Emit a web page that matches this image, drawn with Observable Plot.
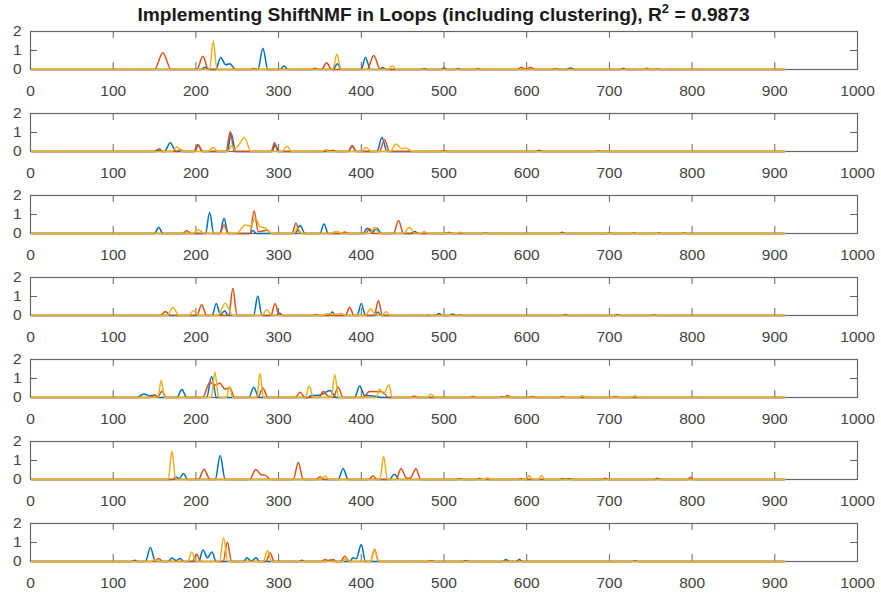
<!DOCTYPE html>
<html>
<head>
<meta charset="utf-8">
<script src="https://cdn.jsdelivr.net/npm/d3@7"></script>
<script src="https://cdn.jsdelivr.net/npm/@observablehq/plot@0.6"></script>
<style>
  html, body { margin: 0; padding: 0; background: #fff; overflow: hidden; }
  #wrap { width: 881px; height: 598px; position: relative; }
  #title {
    position: absolute; left: 30px; width: 827px; top: 4px; z-index: 2;
    text-align: center; font-family: "Liberation Sans", Arial, sans-serif;
    font-weight: bold; font-size: 19.2px; line-height: 22px; color: #1a1a1a;
    white-space: nowrap;
  }
  #title sup { font-size: 13px; vertical-align: baseline; position: relative; top: -8px; }
  #panels { position: absolute; left: 0; top: 27px; z-index: 1; }
  #panels svg { display: block; }
</style>
</head>
<body>
<div id="wrap">
  <div id="title">Implementing ShiftNMF in Loops (including clustering), R<sup>2</sup> = 0.9873</div>
  <div id="panels"></div>
</div>
<script>
// Axis ticks
const xTicks = [0, 100, 200, 300, 400, 500, 600, 700, 800, 900, 1000];
const yTicks = [0, 1, 2];

// Component traces, one set of three per loop: [sample index, value]
const p1Blue = [[1,0],[206,0],[211,0.12],[216,0],[224,0],[230,0.63],[236,0.25],[241,0.3],[248,0],[275,0],[281,1.12],[287,0],[302,0],[306.5,0.18],[311,0],[366,0],[371,0.3],[376,0],[400,0],[405,0.65],[411,0],[422,0],[426,0.1],[430,0],[472,0],[476,0.05],[480,0],[496,0],[500,0.08],[504,0],[513,0],[517,0.05],[521,0],[648,0],[653,0.08],[658,0],[713,0],[717,0.07],[721,0],[754,0],[758,0.03],[762,0],[912,0]];
const p1Orange = [[1,0],[150,0],[160,0.88],[170,0],[201,0],[208.5,0.7],[215,0],[266,0],[270,0.05],[274,0],[338,0],[344,0.07],[350,0],[352,0],[358,0.35],[364,0],[407,0],[415,0.74],[423,0],[537,0],[541,0.05],[545,0],[588,0],[593,0.1],[599,0.04],[605,0.1],[610,0],[631,0],[635,0.05],[639,0],[741,0],[745,0.07],[749,0],[912,0]];
const p1Yellow = [[1,0],[216.5,0],[221,1.5],[225.5,0],[365.5,0],[370.5,0.8],[375.5,0],[432.5,0],[437.5,0.2],[442.5,0],[912,0]];

const p2Blue = [[1,0],[150,0],[154,0.1],[158,0],[162,0],[169,0.46],[176,0],[198,0],[203,0.33],[208,0],[238,0],[242.7,0.95],[248,0],[292,0],[296,0.37],[300,0],[384,0],[389,0.28],[394,0],[419,0],[425,0.75],[431,0],[611,0],[615,0.07],[619,0],[912,0]];
const p2Orange = [[1,0],[152,0],[156,0.14],[160,0],[177,0],[181,0.1],[185,0],[197.5,0],[202.5,0.37],[207.5,0],[236.5,0],[241.5,1.05],[246.5,0],[291,0],[295,0.46],[299,0],[354,0],[358,0.07],[362,0.03],[366,0.07],[370,0],[384,0],[389,0.32],[394,0],[422,0],[428,0.63],[434,0],[496,0],[500,0.05],[504,0],[683,0],[687,0.04],[691,0],[912,0]];
const p2Yellow = [[1,0],[171,0],[177,0.25],[183,0],[214.6,0],[220.6,0.21],[226.6,0],[239,0],[243,0.3],[247,0.12],[251,0.3],[258.7,0.72],[266.7,0],[304,0],[310,0.28],[316,0],[352,0],[356,0.08],[360,0],[400,0],[406,0.21],[412,0],[435,0],[442,0.4],[449,0.15],[454,0.19],[462,0],[912,0]];

const p3Blue = [[1,0],[150,0],[155,0.33],[160,0],[211.6,0],[216.6,1.1],[221.6,0],[229,0],[234,0.8],[239,0],[265,0],[269,0.16],[273,0],[320,0],[326,0.42],[332,0],[350,0],[355,0.5],[360,0],[402,0],[407,0.28],[413,0.06],[419,0.28],[424,0],[460,0],[464.5,0.1],[469,0],[546,0],[550,0.03],[554,0],[639,0],[643,0.07],[647,0],[912,0]];
const p3Orange = [[1,0],[184,0],[189,0.16],[194,0],[229,0],[234,0.45],[239,0],[265.4,0],[270.4,1.2],[275.4,0.1],[280,0.12],[286,0.18],[291,0],[316,0],[321,0.54],[326,0],[376,0],[380,0.08],[384,0],[405,0],[410,0.25],[415,0],[439,0],[445,0.68],[451,0],[502,0],[506,0.06],[510,0],[696,0],[700,0.04],[704,0],[726,0],[730,0.04],[734,0],[756,0],[760,0.04],[764,0],[786,0],[790,0.04],[794,0],[912,0]];
const p3Yellow = [[1,0],[196,0],[203,0.2],[210,0],[249,0],[259.5,0.45],[266,0.4],[271.6,0.8],[278,0.35],[284,0.28],[292,0],[318,0],[323,0.28],[328,0],[362,0],[370,0.1],[378,0],[410,0],[416,0.33],[422,0],[451,0],[458,0.33],[465,0],[471,0],[476,0.1],[481,0],[515,0],[520,0.06],[525,0],[912,0]];

const p4Blue = [[1,0],[219.6,0],[224.6,0.63],[229.6,0.05],[235,0.25],[239,0],[269.8,0],[274.8,1.03],[279.8,0],[297,0],[301,0.12],[305,0],[361,0],[365,0.18],[369,0],[395,0],[400,0.63],[405,0],[416,0],[420,0.18],[424,0],[490,0],[494,0.1],[498,0],[506.6,0],[510.6,0.08],[514.6,0],[643,0],[647,0.05],[651,0],[706,0],[710,0.05],[714,0],[750,0],[754,0.04],[758,0],[912,0]];
const p4Orange = [[1,0],[157,0],[163,0.21],[169,0],[201,0],[207,0.56],[213,0],[239.7,0],[244.7,1.44],[249.7,0],[290.7,0],[295.7,0.63],[300.7,0],[341,0],[345,0.05],[349,0],[381,0],[386,0.44],[391,0],[415.6,0],[420.6,0.77],[425.6,0],[516,0],[520,0.04],[524,0],[912,0]];
const p4Yellow = [[1,0],[165.4,0],[172.4,0.42],[179.4,0],[191,0],[197,0.25],[203,0],[226.5,0],[235.5,0.65],[244.5,0],[279.7,0],[285.7,0.3],[291.7,0],[352,0],[360,0.1],[368,0.06],[375,0.1],[382,0],[405,0],[411,0.35],[417,0.05],[425,0],[430,0.2],[435,0],[476,0],[480,0.05],[484,0],[912,0]];

const p5Blue = [[1,0],[129,0],[137,0.19],[144,0.08],[150,0.12],[155,0],[177,0],[183,0.42],[189,0],[213,0],[219,1.1],[225,0],[264,0],[270,0.54],[276,0],[336,0],[340,0.12],[346,0.1],[354,0.2],[362,0.37],[370,0],[392,0],[398,0.6],[404,0.1],[415,0.08],[425,0],[566,0],[570,0.04],[574,0],[912,0]];
const p5Orange = [[1,0],[145,0],[150,0.12],[154,0.05],[159,0.33],[164,0],[208,0],[217,0.8],[223,0.65],[229,0.75],[235,0.45],[241,0.5],[247,0],[275,0],[281,0.5],[287,0],[320,0],[326,0.28],[332,0],[349,0],[354,0.33],[359,0.1],[366,0],[372,0.54],[378,0],[402,0],[410,0.32],[425,0.3],[433,0],[460,0],[464,0.08],[468,0],[531,0],[535,0.05],[539,0],[573,0],[577,0.1],[581,0],[603,0],[607,0.05],[611,0],[639,0],[643,0.05],[647,0],[703,0],[707,0.05],[711,0],[912,0]];
const p5Yellow = [[1,0],[154,0],[158,0.9],[162,0],[218.5,0],[223,1.33],[227.5,0],[236.7,0],[240.7,0.58],[244.7,0],[273.6,0],[277.6,1.28],[281.6,0],[332,0],[337,0.6],[342,0],[363.5,0],[368,1.2],[372.5,0],[418,0],[422,0.45],[427,0.2],[433.5,0.67],[437.5,0],[479.5,0],[484.5,0.19],[489.5,0],[663,0],[667,0.1],[671,0],[727,0],[731,0.1],[735,0],[912,0]];

const p6Blue = [[1,0],[172,0],[176,0.12],[180,0.05],[185,0.32],[190,0],[223.4,0],[229.4,1.26],[235.4,0],[372,0],[378,0.58],[384,0],[434,0],[440,0.28],[446,0],[647,0],[651,0.05],[655,0],[754,0],[758,0.07],[762,0],[912,0]];
const p6Orange = [[1,0],[203,0],[210,0.54],[217,0],[265,0],[272.4,0.53],[279,0.25],[284,0.23],[290,0],[317.8,0],[323.8,0.9],[329.8,0],[345,0],[350,0.14],[355,0],[409,0],[414,0.18],[419,0],[442,0],[448,0.56],[454,0.1],[457,0.05],[460,0.1],[466,0.56],[472,0],[514.7,0],[518.7,0.05],[522.7,0],[538.7,0],[542.7,0.07],[546.7,0],[589,0],[593,0.05],[597,0],[639,0],[643,0.05],[647,0],[691,0],[695,0.06],[699,0],[794,0],[798,0.1],[802,0],[912,0]];
const p6Yellow = [[1,0],[166.5,0],[171,1.5],[175.5,0],[351,0],[356,0.18],[361,0],[422.5,0],[427,1.23],[431.5,0],[548.7,0],[552.7,0.09],[556.7,0],[599,0],[603,0.2],[607,0],[614,0],[618,0.2],[622,0],[912,0]];

const p7Blue = [[1,0],[122,0],[126,0.07],[130,0],[139,0],[145,0.74],[151,0],[167,0],[171,0.19],[176,0.05],[181,0.16],[185,0],[203.5,0],[208.5,0.6],[214,0.2],[219.4,0.5],[224.4,0],[257.6,0],[261.6,0.2],[267,0.02],[272.8,0.2],[276.8,0],[324,0],[328,0.07],[332,0],[358,0],[362,0.08],[366,0],[386,0],[390,0.2],[394,0.15],[400,0.9],[405,0],[522.6,0],[526.6,0.05],[530.6,0],[571,0],[575,0.1],[579,0],[587,0],[591,0.1],[595,0],[727,0],[731,0.04],[735,0],[912,0]];
const p7Orange = [[1,0],[150,0],[155,0.16],[160,0],[196,0],[201,0.38],[206,0],[233,0],[238,1.03],[243,0],[284.7,0],[289.7,0.45],[294.7,0],[352,0],[356,0.1],[361,0.04],[366,0.1],[370,0],[375,0],[380,0.28],[385,0],[411,0],[416,0.65],[421,0],[480.5,0],[484.5,0.05],[488.5,0],[912,0]];
const p7Yellow = [[1,0],[146,0],[150,0.08],[154,0],[190,0],[195,0.5],[200,0],[228.5,0],[233.5,1.26],[238.5,0],[281.5,0],[286.5,0.56],[291.5,0],[378,0],[382,0.2],[386,0],[411,0],[416,0.6],[421,0],[912,0]];

const panels = [
  [p1Blue, p1Orange, p1Yellow],
  [p2Blue, p2Orange, p2Yellow],
  [p3Blue, p3Orange, p3Yellow],
  [p4Blue, p4Orange, p4Yellow],
  [p5Blue, p5Orange, p5Yellow],
  [p6Blue, p6Orange, p6Yellow],
  [p7Blue, p7Orange, p7Yellow]
];
const seriesColors = ["#0072BD", "#D95319", "#EDB120"];

const W = 881, H = 82, mT = 4, mB = 40, mL = 30, mR = 24;
const innerW = W - mL - mR, innerH = H - mT - mB;
const tickLen = 7;
const axisColor = "#666";

const host = document.getElementById("panels");
panels.forEach((series) => {
  const chart = Plot.plot({
    width: W, height: H,
    marginTop: mT, marginBottom: mB, marginLeft: mL, marginRight: mR,
    x: {domain: [0, 1000]},
    y: {domain: [0, 2]},
    style: {fontFamily: "'Liberation Sans', Arial, sans-serif", fontSize: "15.5px", color: "#444", background: "transparent", overflow: "visible"},
    marks: [
      Plot.frame({stroke: axisColor, strokeWidth: 1.2}),
      // inward ticks along the top and bottom edges
      Plot.tickX(xTicks, {x: d => d, insetBottom: innerH - tickLen, stroke: axisColor}),
      Plot.tickX(xTicks, {x: d => d, insetTop: innerH - tickLen, stroke: axisColor}),
      // inward ticks along the left and right edges
      Plot.tickY(yTicks, {y: d => d, insetRight: innerW - tickLen, stroke: axisColor}),
      Plot.tickY(yTicks, {y: d => d, insetLeft: innerW - tickLen, stroke: axisColor}),
      Plot.axisX({ticks: xTicks, tickSize: 0, tickPadding: 15, tickFormat: d => String(d), label: null}),
      Plot.axisY({ticks: yTicks, tickSize: 0, tickPadding: 9, tickFormat: d => String(d), label: null}),
      ...series.map((pts, i) => Plot.line(pts, {
        x: d => d[0], y: d => d[1],
        stroke: seriesColors[i], strokeWidth: 1.5, curve: "monotone-x"
      }))
    ]
  });
  host.appendChild(chart);
});
</script>
</body>
</html>
